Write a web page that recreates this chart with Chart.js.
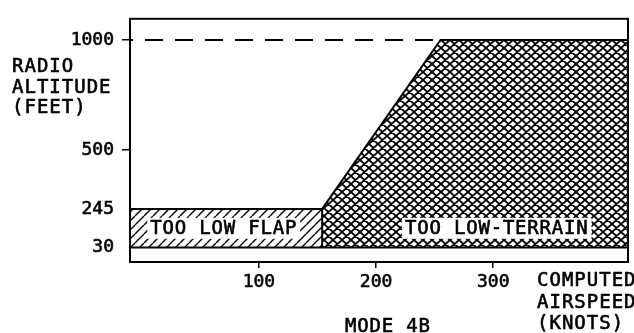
<!DOCTYPE html>
<html>
<head>
<meta charset="utf-8">
<script src="https://cdn.jsdelivr.net/npm/chart.js@4/dist/chart.umd.min.js"></script>
<style>
  html, body { margin: 0; padding: 0; background: #fff; }
</style>
</head>
<body>
<canvas id="chart" width="634" height="333"></canvas>
<script>
// Achsen (Geschwindigkeit in Knoten, Höhe in Fuss)
const speedRange = [-10, 415];
const altRange = [0, 1100];
const xTicks = [100, 200, 300];
const yTicks = [30, 245, 500, 1000];

// Grenzen der Warnbereiche
const flapSpeed = [-10, 154];
const flapAlt = [245, 245];
const terrainSpeed = [154, 154, 255, 415];
const terrainAlt = [30, 245, 1000, 1000];
const floorSpeed = [-10, 415];
const floorAlt = [30, 30];
const ceilingSpeed = [-10, 255];
const ceilingAlt = [1000, 1000];

// Beschriftungen in den Bereichen
const areaNames = ['TOO LOW FLAP', 'TOO LOW-TERRAIN'];
const areaSpeed = [70, 303];
const areaAlt = [137, 137];

const toPoints = (xs, ys) => xs.map((x, i) => ({ x: x, y: ys[i] }));

// Schematische Höhenachse: nicht linear, wie im Original
const altKnots = [0, 30, 245, 500, 1000, 1100];
const altFrac = [0, 0.0595, 0.2183, 0.4603, 0.9127, 1];

function warp(v) {
    for (let i = 1; i < altKnots.length; i++) {
        if (v <= altKnots[i] || i === altKnots.length - 1) {
            const t = (v - altKnots[i - 1]) / (altKnots[i] - altKnots[i - 1]);
            return altFrac[i - 1] + t * (altFrac[i] - altFrac[i - 1]);
        }
    }
}
function unwarp(f) {
    for (let i = 1; i < altFrac.length; i++) {
        if (f <= altFrac[i] || i === altFrac.length - 1) {
            const t = (f - altFrac[i - 1]) / (altFrac[i] - altFrac[i - 1]);
            return altKnots[i - 1] + t * (altKnots[i] - altKnots[i - 1]);
        }
    }
}

class SchematicScale extends Chart.LinearScale {
    getPixelForValue(value) {
        return this.getPixelForDecimal(warp(value));
    }
    getValueForPixel(pixel) {
        return unwarp(this.getDecimalForPixel(pixel));
    }
}
SchematicScale.id = 'schematic';
SchematicScale.defaults = Chart.LinearScale.defaults;
Chart.register(SchematicScale);

// Schraffuren
function makePattern(w, h, lw, cross) {
    const c = document.createElement('canvas');
    c.width = w;
    c.height = h;
    const g = c.getContext('2d');
    g.fillStyle = '#fff';
    g.fillRect(0, 0, w, h);
    g.strokeStyle = '#000';
    g.lineWidth = lw;
    g.beginPath();
    for (let k = -1; k <= 1; k++) {
        g.moveTo(k * w, h);
        g.lineTo(k * w + w, 0);
        if (cross) {
            g.moveTo(k * w, 0);
            g.lineTo(k * w + w, h);
        }
    }
    g.stroke();
    return g.createPattern(c, 'repeat');
}
const crossHatch = makePattern(9, 8, 1.8, true);
const flapHatch = makePattern(9, 9, 1.4, false);

const mono = "'DejaVu Sans Mono', 'Liberation Mono', monospace";

function drawText(ctx, text, x, y, size, spacing, align) {
    ctx.save();
    ctx.font = size + 'px ' + mono;
    ctx.letterSpacing = spacing + 'px';
    ctx.fillStyle = '#000';
    ctx.strokeStyle = '#000';
    ctx.lineWidth = 0.6;
    ctx.textAlign = align || 'left';
    ctx.textBaseline = 'middle';
    ctx.fillText(text, x, y);
    ctx.strokeText(text, x, y);
    ctx.restore();
}

const labelPlugin = {
    id: 'labels',
    afterDatasetsDraw(chart) {
        const ctx = chart.ctx;
        const xs = chart.scales.x, ys = chart.scales.y;
        areaNames.forEach((name, i) => {
            const cx = xs.getPixelForValue(areaSpeed[i]);
            const cy = ys.getPixelForValue(areaAlt[i]);
            ctx.save();
            ctx.font = '19px ' + mono;
            ctx.letterSpacing = '0.8px';
            const w = ctx.measureText(name).width + 6;
            ctx.fillStyle = '#fff';
            ctx.fillRect(cx - w / 2, cy - 10.5, w, 21);
            ctx.restore();
            drawText(ctx, name, cx, cy + 1, 19, 0.8, 'center');
        });
    },
    afterDraw(chart) {
        const ctx = chart.ctx;
        const a = chart.chartArea;
        ctx.save();
        ctx.strokeStyle = '#000';
        ctx.lineWidth = 2;
        ctx.strokeRect(a.left, a.top, a.right - a.left, a.bottom - a.top);
        ctx.restore();

        drawText(ctx, 'RADIO', 12, 67, 19, 1);
        drawText(ctx, 'ALTITUDE', 12, 88, 19, 1);
        drawText(ctx, '(FEET)', 12, 108, 19, 1);

        drawText(ctx, 'COMPUTED', 537, 281, 19, 1);
        drawText(ctx, 'AIRSPEED', 537, 303, 19, 1);
        drawText(ctx, '(KNOTS)', 537, 324, 19, 1);

        drawText(ctx, 'MODE 4B', 345, 327, 19, 0.8);
    }
};

const lineStyle = { showLine: true, pointRadius: 0, borderColor: '#000', borderWidth: 2, tension: 0 };
const tickFont = { family: mono, size: 18 };

new Chart(document.getElementById('chart'), {
    type: 'scatter',
    data: {
        datasets: [
            Object.assign({ data: toPoints(floorSpeed, floorAlt), fill: false }, lineStyle),
            Object.assign({ data: toPoints(ceilingSpeed, ceilingAlt), fill: false,
                borderDash: [18, 12], borderDashOffset: 15 }, lineStyle),
            Object.assign({ data: toPoints(terrainSpeed, terrainAlt),
                fill: { value: 30 }, backgroundColor: crossHatch }, lineStyle),
            Object.assign({ data: toPoints(flapSpeed, flapAlt),
                fill: { value: 30 }, backgroundColor: flapHatch }, lineStyle)
        ]
    },
    options: {
        responsive: false,
        animation: false,
        layout: { padding: { top: 10, right: 6, left: 0, bottom: 0 } },
        plugins: {
            legend: { display: false },
            tooltip: { enabled: false }
        },
        scales: {
            x: {
                type: 'linear',
                min: speedRange[0],
                max: speedRange[1],
                afterBuildTicks: s => { s.ticks = xTicks.map(v => ({ value: v })); },
                afterFit: s => { s.height = 71; },
                border: { display: false },
                grid: { drawOnChartArea: false, color: '#000', tickLength: 6, lineWidth: 1.5 },
                ticks: {
                    color: '#000', padding: 4, autoSkip: false, maxRotation: 0,
                    font: tickFont, textStrokeColor: '#000', textStrokeWidth: 0.6,
                    callback: v => String(v)
                }
            },
            y: {
                type: 'schematic',
                min: altRange[0],
                max: altRange[1],
                afterBuildTicks: s => { s.ticks = yTicks.map(v => ({ value: v })); },
                afterFit: s => { s.width = 130; },
                border: { display: false },
                grid: {
                    drawOnChartArea: false, color: '#000', tickLength: 8, lineWidth: 1.5,
                    tickColor: c => (c.tick && c.tick.value >= 500) ? '#000' : 'rgba(0,0,0,0)'
                },
                ticks: {
                    color: '#000', padding: 8, autoSkip: false,
                    font: tickFont, textStrokeColor: '#000', textStrokeWidth: 0.6,
                    callback: v => String(v)
                }
            }
        }
    },
    plugins: [labelPlugin]
});
</script>
</body>
</html>
